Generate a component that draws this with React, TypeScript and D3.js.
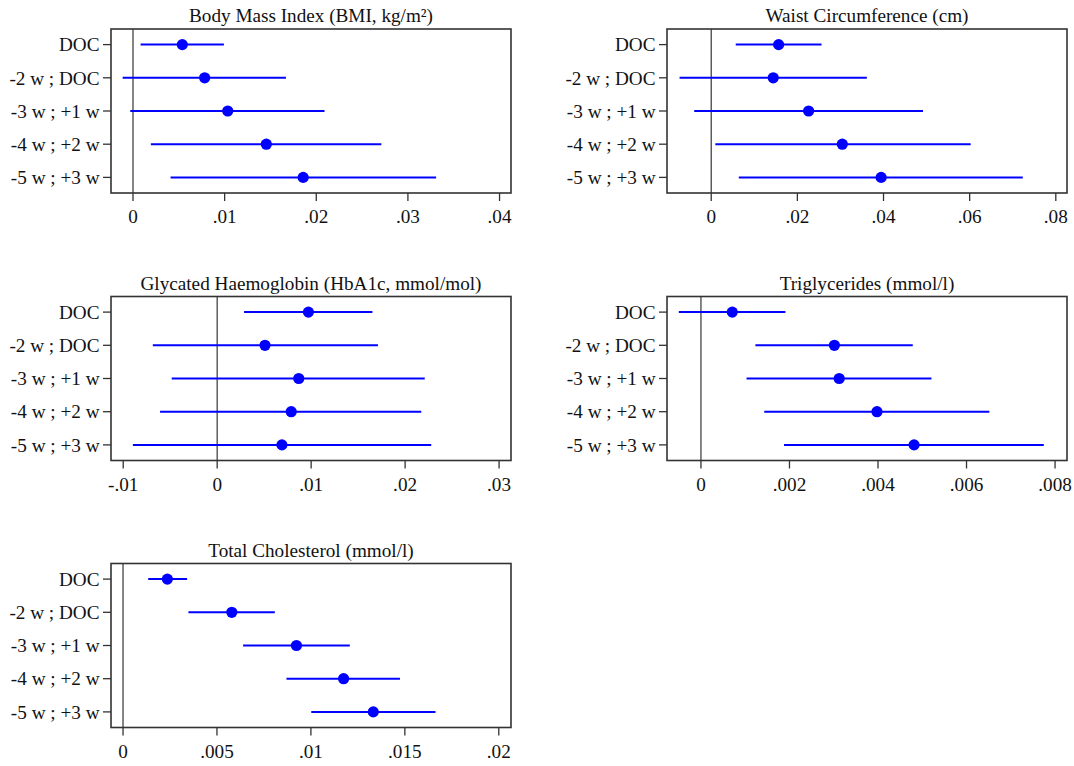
import React from "react";
import * as d3 from "d3";

const categories = ["DOC", "-2 w ; DOC", "-3 w ; +1 w", "-4 w ; +2 w", "-5 w ; +3 w"];

const titles = [
  "Body Mass Index (BMI, kg/m²)",
  "Waist Circumference (cm)",
  "Glycated Haemoglobin (HbA1c, mmol/mol)",
  "Triglycerides (mmol/l)",
  "Total Cholesterol (mmol/l)",
];

// Panel 1: BMI
const bmiEst = [0.00538, 0.00782, 0.01034, 0.01455, 0.01857];
const bmiLo = [0.00083, -0.00113, -0.0003, 0.00195, 0.0041];
const bmiHi = [0.00992, 0.01669, 0.0209, 0.0271, 0.03308];
const bmiTicks = [0, 0.01, 0.02, 0.03, 0.04];
const bmiTickLabels = ["0", ".01", ".02", ".03", ".04"];
const bmiDomain = [-0.0024, 0.04125];

// Panel 2: Waist
const waistEst = [0.01565, 0.01439, 0.02261, 0.03043, 0.03945];
const waistLo = [0.00569, -0.00735, -0.00395, 0.00095, 0.0064];
const waistHi = [0.02561, 0.03613, 0.04917, 0.06024, 0.07233];
const waistTicks = [0, 0.02, 0.04, 0.06, 0.08];
const waistTickLabels = ["0", ".02", ".04", ".06", ".08"];
const waistDomain = [-0.01027, 0.0826];

// Panel 3: HbA1c
const hbaEst = [0.00971, 0.00509, 0.00868, 0.00788, 0.00689];
const hbaLo = [0.00286, -0.00685, -0.00484, -0.00608, -0.00897];
const hbaHi = [0.01652, 0.01711, 0.02209, 0.02172, 0.02278];
const hbaTicks = [-0.01, 0, 0.01, 0.02, 0.03];
const hbaTickLabels = ["-.01", "0", ".01", ".02", ".03"];
const hbaDomain = [-0.0113, 0.03127];

// Panel 4: Triglycerides
const trigEst = [0.000708, 0.003015, 0.003123, 0.003977, 0.004815];
const trigLo = [-0.0005, 0.00123, 0.00103, 0.00143, 0.001877];
const trigHi = [0.001908, 0.004785, 0.005208, 0.006515, 0.007746];
const trigTicks = [0, 0.002, 0.004, 0.006, 0.008];
const trigTickLabels = ["0", ".002", ".004", ".006", ".008"];
const trigDomain = [-0.000767, 0.00827];

// Panel 5: Total cholesterol
const cholEst = [0.00236, 0.00579, 0.00923, 0.01174, 0.01332];
const cholLo = [0.00134, 0.00348, 0.00639, 0.0087, 0.01002];
const cholHi = [0.00341, 0.00808, 0.01207, 0.01474, 0.01663];
const cholTicks = [0, 0.005, 0.01, 0.015, 0.02];
const cholTickLabels = ["0", ".005", ".01", ".015", ".02"];
const cholDomain = [-0.00064, 0.02065];

const W = 1074;
const H = 766;
const FONT = "'Liberation Serif', 'Times New Roman', serif";
const FS = 19.2;
const BLUE = "#0000ff";
const AXIS = "#333333";

type PanelProps = {
  title: string;
  est: number[];
  lo: number[];
  hi: number[];
  ticks: number[];
  tickLabels: string[];
  domain: number[];
  x0: number;
  y0: number;
};

const PW = 400;
const PH = 164;

function Panel({ title, est, lo, hi, ticks, tickLabels, domain, x0, y0 }: PanelProps) {
  const x = d3.scaleLinear().domain(domain).range([x0, x0 + PW]);
  const y = d3.scalePoint<string>().domain(categories).range([y0, y0 + PH]).padding(0.47);
  const bottom = y0 + PH;
  return (
    <g>
      <text x={x0 + PW / 2} y={y0 - 7} textAnchor="middle" fontFamily={FONT} fontSize={FS} fill="#111">
        {title}
      </text>
      {/* zero line */}
      <line x1={x(0)} x2={x(0)} y1={y0} y2={bottom} stroke="#444" strokeWidth={1.3} />
      {/* CI lines and points */}
      {categories.map((c, i) => (
        <g key={c}>
          <line x1={x(lo[i])} x2={x(hi[i])} y1={y(c)} y2={y(c)} stroke={BLUE} strokeWidth={2} />
          <circle cx={x(est[i])} cy={y(c)} r={5.6} fill={BLUE} />
        </g>
      ))}
      {/* frame */}
      <rect x={x0} y={y0} width={PW} height={PH} fill="none" stroke={AXIS} strokeWidth={1.6} />
      {/* y ticks */}
      {categories.map((c) => (
        <g key={"yt" + c}>
          <line x1={x0 - 8} x2={x0} y1={y(c)} y2={y(c)} stroke={AXIS} strokeWidth={1.3} />
          <text x={x0 - 11.5} y={(y(c) as number) + 6.8} textAnchor="end" fontFamily={FONT} fontSize={FS} fill="#111">
            {c}
          </text>
        </g>
      ))}
      {/* x ticks */}
      {ticks.map((t, i) => (
        <g key={"xt" + i}>
          <line x1={x(t)} x2={x(t)} y1={bottom} y2={bottom + 8} stroke={AXIS} strokeWidth={1.3} />
          <text x={x(t)} y={bottom + 30} textAnchor="middle" fontFamily={FONT} fontSize={FS} fill="#111">
            {tickLabels[i]}
          </text>
        </g>
      ))}
    </g>
  );
}

export default function App() {
  const colX = [111, 667];
  const rowY = [29, 296.5, 563.5];
  return (
    <svg
      width={W}
      height={H}
      style={{ position: "absolute", left: 0, top: 0, background: "#fff" }}
    >
      <rect x={0} y={0} width={W} height={H} fill="#fff" />
      <Panel title={titles[0]} est={bmiEst} lo={bmiLo} hi={bmiHi} ticks={bmiTicks} tickLabels={bmiTickLabels} domain={bmiDomain} x0={colX[0]} y0={rowY[0]} />
      <Panel title={titles[1]} est={waistEst} lo={waistLo} hi={waistHi} ticks={waistTicks} tickLabels={waistTickLabels} domain={waistDomain} x0={colX[1]} y0={rowY[0]} />
      <Panel title={titles[2]} est={hbaEst} lo={hbaLo} hi={hbaHi} ticks={hbaTicks} tickLabels={hbaTickLabels} domain={hbaDomain} x0={colX[0]} y0={rowY[1]} />
      <Panel title={titles[3]} est={trigEst} lo={trigLo} hi={trigHi} ticks={trigTicks} tickLabels={trigTickLabels} domain={trigDomain} x0={colX[1]} y0={rowY[1]} />
      <Panel title={titles[4]} est={cholEst} lo={cholLo} hi={cholHi} ticks={cholTicks} tickLabels={cholTickLabels} domain={cholDomain} x0={colX[0]} y0={rowY[2]} />
    </svg>
  );
}
